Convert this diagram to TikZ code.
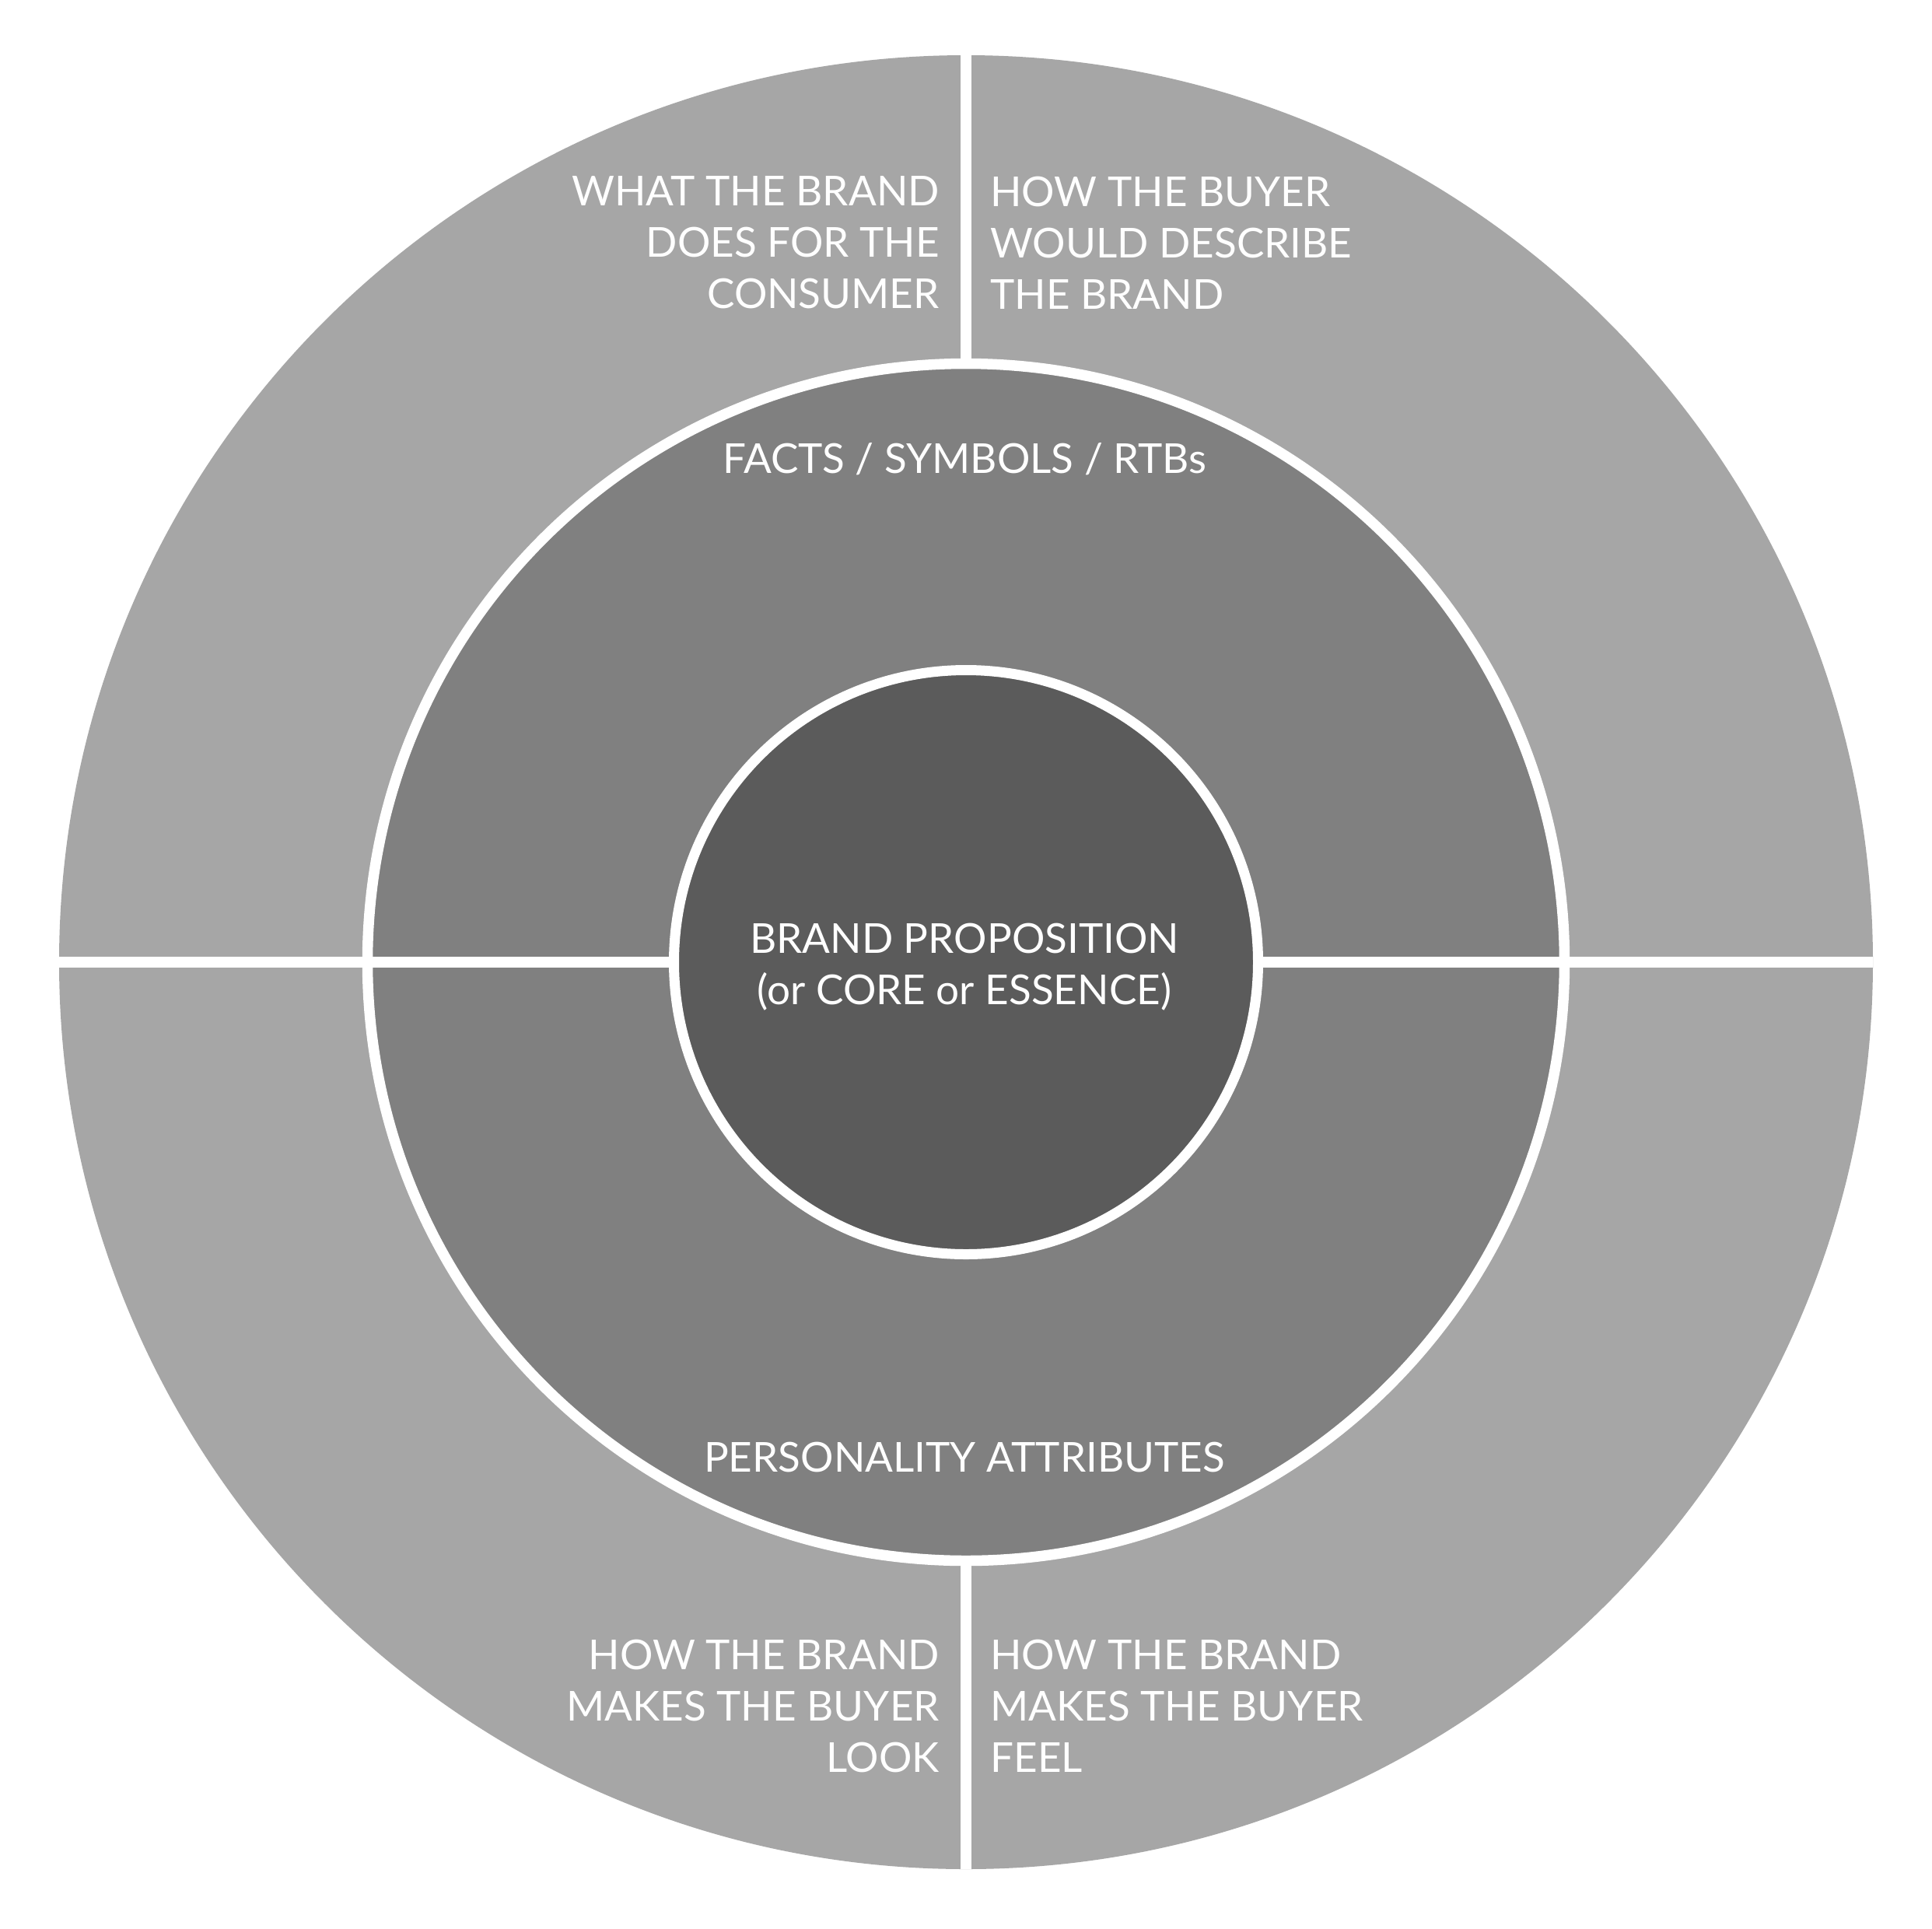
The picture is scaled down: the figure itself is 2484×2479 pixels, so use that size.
\documentclass[tikz,border=0pt]{standalone}
\usepackage{fontspec}
\setmainfont{Lato}
\definecolor{outerg}{RGB}{166,166,166}
\definecolor{midg}{RGB}{128,128,128}
\definecolor{coreg}{RGB}{91,91,91}
\begin{document}
\begin{tikzpicture}[x=0.5pt,y=-0.5pt,
  ring/.style={circle, inner sep=0pt, outer sep=0pt},
  sep/.style={draw=white, line width=7pt},
  lbl/.style={text=white, inner sep=0pt, font=\fontsize{26.5pt}{33pt}\selectfont},
]
\useasboundingbox (0,0) rectangle (2484,2479);
\fill[white] (0,0) rectangle (2484,2479);
\node[ring, fill=outerg, minimum size=1166pt] (outer) at (1242,1237) {};
\node[ring, fill=midg, draw=white, line width=6.75pt, minimum size=769.5pt] (mid) at (1242,1237) {};
\node[ring, fill=coreg, draw=white, line width=6.5pt, minimum size=375.5pt] (core) at (1242,1237) {};
\draw[sep] (outer.north) -- (mid.north);
\draw[sep] (mid.south) -- (outer.south);
\draw[sep] (outer.west) -- (core.west);
\draw[sep] (core.east) -- (outer.east);
\node[lbl, align=center] (prop) at (1240,1243) {BRAND PROPOSITION\\(or CORE or ESSENCE)};
\node[lbl] (facts) at (1240,590) {FACTS / SYMBOLS / RTBs};
\node[lbl] (pers) at (1240,1873) {PERSONALITY ATTRIBUTES};
\node[lbl, align=right, anchor=east] (tl) at (1208,312) {WHAT THE BRAND\\DOES FOR THE\\CONSUMER};
\node[lbl, align=left, anchor=west] (tr) at (1273,312) {HOW THE BUYER\\WOULD DESCRIBE\\THE BRAND};
\node[lbl, align=right, anchor=east] (bl) at (1208,2193) {HOW THE BRAND\\MAKES THE BUYER\\LOOK};
\node[lbl, align=left, anchor=west] (br) at (1273,2193) {HOW THE BRAND\\MAKES THE BUYER\\FEEL};
\end{tikzpicture}
\end{document}
